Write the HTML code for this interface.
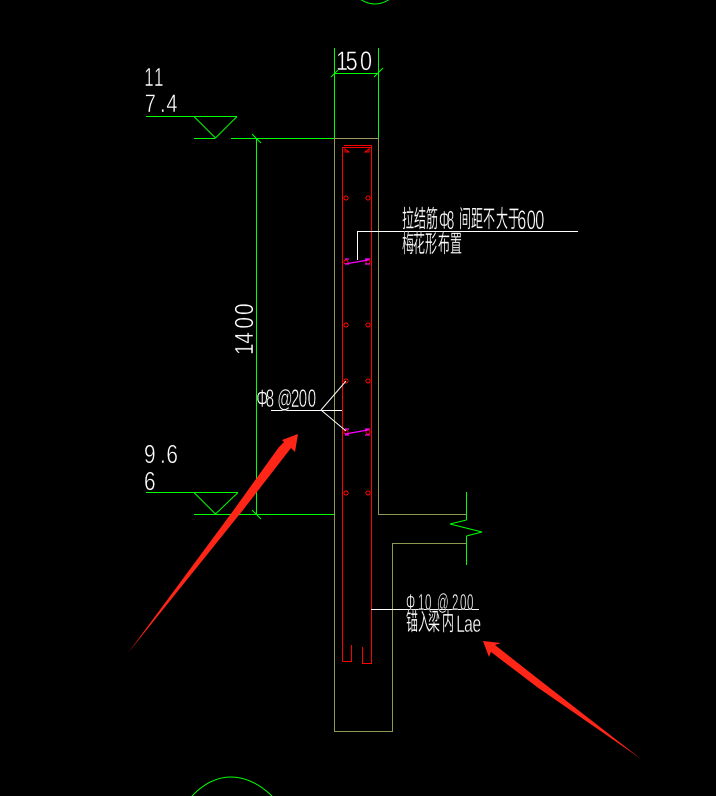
<!DOCTYPE html>
<html><head><meta charset="utf-8"><style>
html,body{margin:0;padding:0;background:#000;width:716px;height:796px;overflow:hidden}
svg{display:block}
.g,.w,.r,.t,.m{fill:none;stroke-width:1}
.g{stroke:#00ff00}.w{stroke:#fff}.r{stroke:#ff0000}.t{stroke:#8f9a50}.m{stroke:#ff00ff;stroke-width:1.3}
.c{shape-rendering:crispEdges}
text{fill:#fff;font-family:"Liberation Sans","WenQuanYi Zen Hei","Noto Sans CJK SC",sans-serif;stroke:#000;stroke-width:.45}
text.k{stroke-width:.2}
</style></head><body>
<svg width="716" height="796" viewBox="0 0 716 796" xmlns="http://www.w3.org/2000/svg">
<rect width="716" height="796" fill="#000"/>
<!-- axis circles -->
<path class="g" d="M360 -1 Q375 9 390 -1"/>
<path class="g" d="M192 796 Q210 777 231 777 Q252 777 272 796"/>
<!-- wall outline -->
<path class="t c" d="M378.5 138.5V514.5H466M466 543.5H392.5V731.5H334.5V138.5"/>
<path class="c" fill="none" stroke="#a09a60" d="M334 138.5H379"/>
<!-- green dims -->
<g class="g c">
<path d="M334.5 48V138M378.5 48V138M334 73.5H378"/>
<path d="M146 116.5H237M194 138.5H215M231 138.5H334M256.5 138V515M146 492.5H238M194 514.5H215M215 514.5H334"/>
<path d="M466.5 492V520M466.5 536V565"/>
</g>
<g class="g">
<path d="M331 77L340 68M374 77L383 68M252 134L261 143M252 510L261 519"/>
<path d="M194 116.5L215.5 138L237 116.5M194 492.5L215.5 514L238 492.5"/>
<path d="M466.5 520L450 524L482 532L466.5 536"/>
</g>
<!-- rebar -->
<g class="r c">
<path d="M342.5 661.5V147.5H371.5V663.5H362.5V647M342.5 661.5H351.5V645M344 145.5H371.5M371.5 145V148"/>
</g>
<g fill="none" stroke="#ff0000" stroke-width="1" shape-rendering="crispEdges">
<path d="M345 149L349 152H345ZM369 149L365 152H369Z"/>
<circle cx="346" cy="198" r="2"/><circle cx="368" cy="198" r="2"/>
<circle cx="346" cy="262" r="2"/><circle cx="368" cy="262" r="2"/>
<circle cx="346" cy="325" r="2"/><circle cx="368" cy="325" r="2"/>
<circle cx="346" cy="381" r="2"/><circle cx="368" cy="381" r="2"/>
<circle cx="346" cy="432" r="2"/><circle cx="368" cy="432" r="2"/>
<circle cx="346" cy="493" r="2"/><circle cx="368" cy="493" r="2"/>
</g>
<g class="m">
<path d="M345 264L368 260M345 259H349M345 264H349M365 259H370M365 264H370"/>
<path d="M345 434L368 430M345 429H349M345 435H349M365 429H370M365 435H370"/>
</g>
<!-- leaders -->
<path class="w c" d="M357.5 260V231.5H578M271 410.5H342M371 609.5H479"/>
<path class="w" d="M321 410L346 381M321 410L346 431"/>
<!-- text -->
<g transform="translate(0 86) scale(.65 1)"><text x="222 237" font-size="26">11</text></g>
<g transform="translate(0 112) scale(.8 1)"><text x="181 200 208" font-size="25">7.4</text></g>
<g transform="translate(0 70) scale(.8 1)"><text x="420 432 450" font-size="27">150</text></g>
<g transform="translate(0 463) scale(.8 1)"><text x="180 200 208" font-size="26">9.6</text></g>
<g transform="translate(0 490) scale(.8 1)"><text x="180" font-size="26">6</text></g>
<g transform="translate(253 355) rotate(-90) scale(.8 1)"><text x="0 14 33 50" font-size="26">1400</text></g>

<g transform="translate(0 227) scale(.5 1)">
<text class="k" x="804 828 852" font-size="24">拉结筋</text>
<text class="k" x="918 942 966 992 1016" font-size="24">间距不大于</text>
</g>
<g transform="translate(0 229) scale(.5 1)"><text x="878 894" font-size="26">Φ8</text></g>
<g transform="translate(0 229) scale(.6 1)"><text x="862 878 892" font-size="27">600</text></g>
<g transform="translate(0 252) scale(.5 1)"><text class="k" x="804 826 850 876 900" font-size="24">梅花形布置</text></g>

<g transform="translate(0 407) scale(.6 1)"><text x="427 443 462 485 498 513" font-size="25">Φ8@200</text></g>
<g transform="translate(0 610) scale(.5 1)"><text x="812 836 850 874 904 920 934" font-size="23">Φ10@200</text></g>
<g transform="translate(0 630) scale(.5 1)"><text class="k" x="812 836 856 884" font-size="24">锚入梁内</text></g>
<g transform="translate(0 632) scale(.65 1)"><text x="702 714 727" font-size="24">Lae</text></g>
<!-- red arrows -->
<path fill="#ff2618" d="M128 653L233 511L279 447L284 442L282 440L298 434L295 452L291 448L243 510Z"/>
<path fill="#ff2618" d="M641 759L537 678L495 645L501 643L483 641L489 657L491 652L537 687Z"/>
</svg>
</body></html>
